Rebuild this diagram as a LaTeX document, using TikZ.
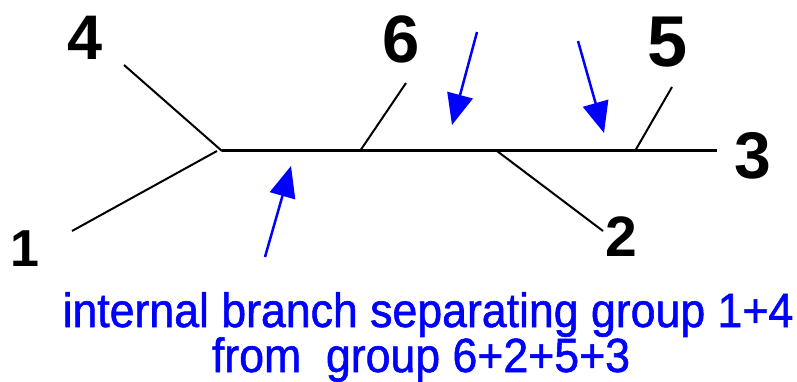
\documentclass[tikz,border=0pt]{standalone}
\usepackage{fontspec}
\setmainfont{Liberation Sans}
\usetikzlibrary{arrows.meta}

\begin{document}
\begin{tikzpicture}[x=1pt,y=-1pt,
    branch/.style={line width=2pt},
    internal/.style={line width=3pt},
    pointer/.style={blue,line width=2.5pt,-{Triangle[length=31pt,width=26pt]}},
    taxon/.style={font=\fontsize{#1}{#1}\selectfont\bfseries,inner sep=0pt},
    note/.style={blue,font=\fontsize{48}{48}\selectfont\addfontfeature{FakeBold=1.2},inner sep=0pt,anchor=base,xscale=0.93}]
  \useasboundingbox (0,0) rectangle (797,382);

  % junctions along the tree
  \coordinate (J14) at (222,151);
  \coordinate (J6) at (360,151);
  \coordinate (J2) at (497,151);
  \coordinate (J5) at (635,151);

  % leaf ends
  \coordinate (L4) at (124,65);
  \coordinate (L1) at (72,231);
  \coordinate (L6) at (406,83);
  \coordinate (L2) at (603,231);
  \coordinate (L5) at (672,87);
  \coordinate (L3) at (717,151);

  % taxon labels
  \node[taxon=63] (T4) at (85,38) {4};
  \node[taxon=67] (T6) at (401,39) {6};
  \node[taxon=72] (T5) at (668,42) {5};
  \node[taxon=66] (T3) at (753,156) {3};
  \node[taxon=57] (T2) at (621,237) {2};
  \node[taxon=52] (T1) at (25,249) {1};

  \draw[internal] (J14) -- (J6) -- (J2) -- (J5) -- (L3);
  \draw[branch] (L4) -- (J14);
  \draw[branch] (L1) -- ([xshift=-5pt]J14);
  \draw[branch] (J6) -- (L6);
  \draw[branch] (J2) -- (L2);
  \draw[branch] (J5) -- (L5);

  % arrows onto the branches
  \coordinate (A1) at (265,257);
  \coordinate (B1) at (291,166);
  \coordinate (A2) at (477,32);
  \coordinate (B2) at (452,125);
  \coordinate (A3) at (578,41);
  \coordinate (B3) at (604,133);
  \draw[pointer] (A1) -- (B1);
  \draw[pointer] (A2) -- (B2);
  \draw[pointer] (A3) -- (B3);

  % caption
  \node[note] (N1) at (428,327) {internal branch separating group 1+4};
  \node[note] (N2) at (421,372) {from\ \ group 6+2+5+3};
\end{tikzpicture}
\end{document}
